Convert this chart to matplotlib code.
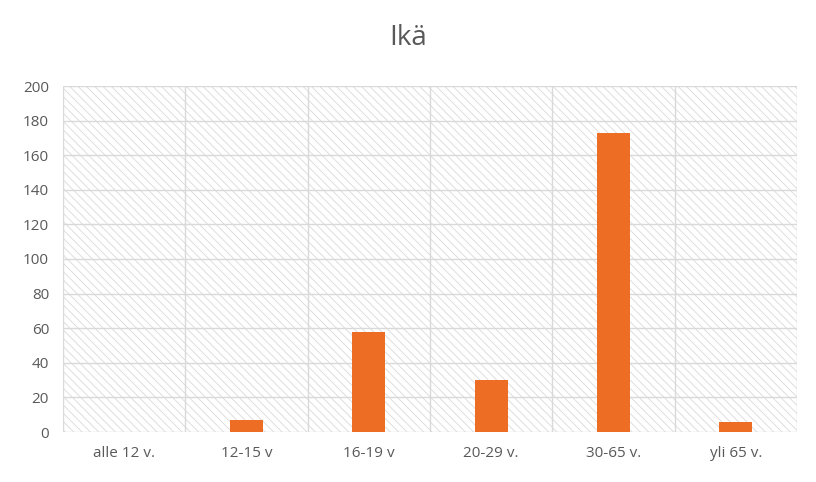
import matplotlib.pyplot as plt
import numpy as np

categories = ['alle 12 v.', '12-15 v', '16-19 v', '20-29 v.', '30-65 v.', 'yli 65 v.']
values = [0, 7, 58, 30, 173, 6]
yticks = list(range(0, 201, 20))

plt.rcParams['font.family'] = 'Open Sans'
plt.rcParams['hatch.color'] = '#d9d9d9'
plt.rcParams['hatch.linewidth'] = 0.6

fig = plt.figure(figsize=(8.16, 4.82), dpi=100)
ax = fig.add_axes([63/816, 1-432/482, 734/816, 346/482])

# hatched background
ax.add_patch(plt.Rectangle((0, 0), 1, 1, transform=ax.transAxes, facecolor='white',
                           edgecolor='#d9d9d9', hatch='\\\\\\\\', lw=0, zorder=0))

x = np.arange(len(categories))
ax.bar(x, values, width=0.27, color='#ed6d25', zorder=3)

ax.set_xlim(-0.5, len(categories) - 0.5)
ax.set_ylim(0, 200)
ax.set_yticks(yticks)
for y in yticks:
    ax.axhline(y, color='#d9d9d9', lw=1, zorder=1)
for b in np.arange(-0.5, len(categories), 1):
    ax.axvline(b, color='#d9d9d9', lw=1, zorder=1)

ax.set_xticks(x)
ax.set_xticklabels(categories)
ax.tick_params(length=0, labelsize=11, colors='#595959', pad=10)
for s in ax.spines.values():
    s.set_visible(False)

fig.suptitle('Ikä', y=0.95, fontsize=20, color='#595959')
fig.savefig('out.png', dpi=100)
